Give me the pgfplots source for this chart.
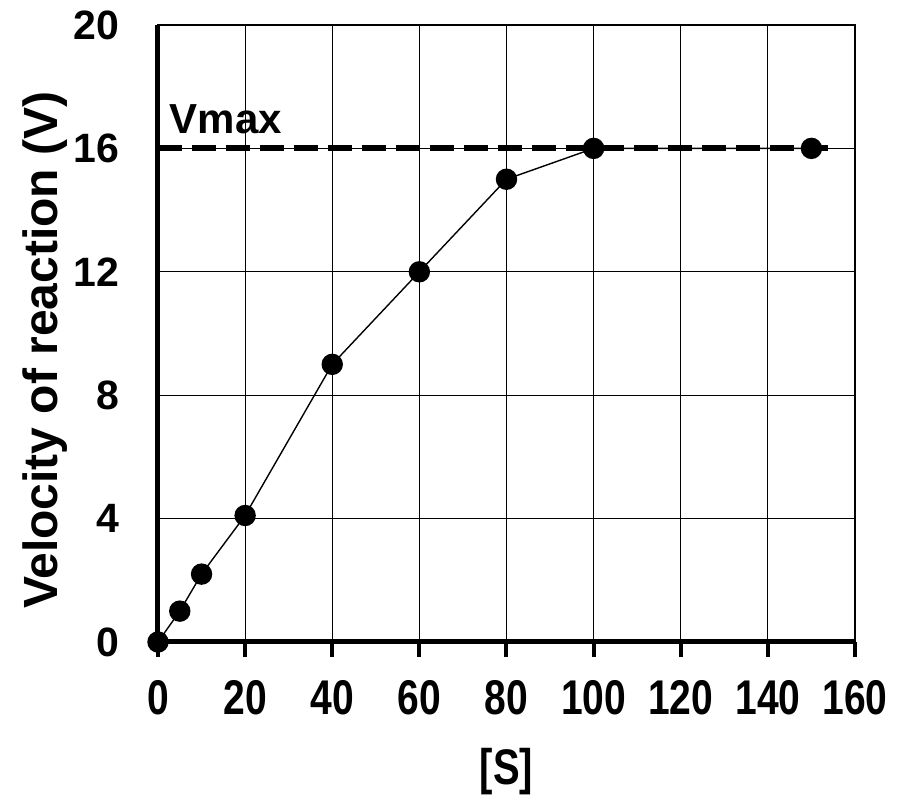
\documentclass[border=0pt]{standalone}
\usepackage{fontspec}
\setmainfont{Liberation Sans}
\usepackage{pgfplots}
\pgfplotsset{compat=1.18}

\pgfplotstableread{
S V
0 0
5 1.0
10 2.2
20 4.1
40 9.0
60 12.0
80 15.0
100 16.0
150 16.0
}\rates

\begin{document}
\begin{tikzpicture}
\begin{axis}[
    scale only axis,
    width=348.5pt, height=308.5pt,
    xmin=0, xmax=160, ymin=0, ymax=20,
    xtick={0,20,...,160},
    ytick={0,4,...,20},
    grid=major,
    major grid style={black, line width=0.6pt},
    axis line style={black, line width=0.8pt},
    xtick align=outside,
    major tick length=7.5pt,
    x tick style={black, line width=2pt},
    y tick style={draw=none},
    xtick pos=bottom, ytick pos=left,
    /pgf/number format/assume math mode=true,
    yticklabel style={font=\fontsize{20.5}{23}\selectfont\bfseries, xshift=-16pt},
    xticklabel style={font=\fontsize{19.5}{22}\selectfont\bfseries, yshift=-8pt},
    xticklabel={\scalebox{1}[1.25]{\pgfmathprintnumber{\tick}}},
    xlabel={\scalebox{1}[1.25]{[S]}},
    ylabel={Velocity of reaction (V)},
    every axis x label/.style={at={(rel axis cs:0.5,0)}, anchor=center, yshift=-65pt,
        font=\fontsize{20}{23}\selectfont\bfseries},
    every axis y label/.style={at={(rel axis cs:0,0.473)}, anchor=center, xshift=-56.5pt, rotate=90,
        font=\fontsize{24}{27}\selectfont\bfseries},
    clip=false,
]
\coordinate (O) at (rel axis cs:0,0);
\addplot[black, line width=3pt, dash pattern=on 12pt off 5pt] coordinates {(0,16) (156,16)};
\addplot[black, line width=0.7pt, mark=*, mark size=5pt, mark options={solid, fill=black}] table[x=S, y=V] {\rates};
\node[anchor=south west, inner sep=0pt, font=\fontsize{21}{24}\selectfont\bfseries] at (axis cs:2.6,16.45) {Vmax};
\draw[black, line width=2.5pt] (rel axis cs:0,1) -- (rel axis cs:0,0) -- (rel axis cs:1,0);
\end{axis}
\pgfresetboundingbox
\path (O) ++(-79pt,-82pt) rectangle ++(450pt,403pt);
\end{tikzpicture}
\end{document}
